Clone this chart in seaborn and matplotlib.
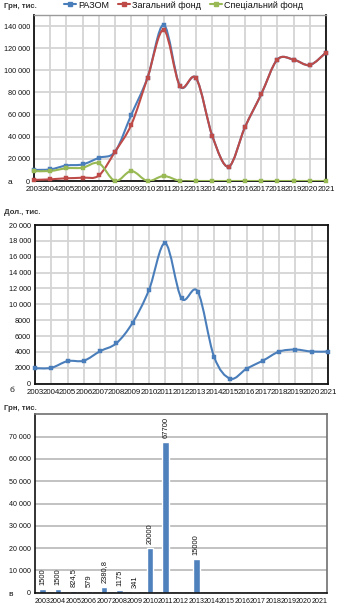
import numpy as np
import pandas as pd
import matplotlib
matplotlib.use("Agg")
import matplotlib.pyplot as plt
from matplotlib.path import Path
from matplotlib.patches import PathPatch
from matplotlib.lines import Line2D
import seaborn as sns

# ---- data -------------------------------------------------------------
years = list(range(2003, 2022))

# (а) UAH, thousand
total_uah = [10000, 10500, 14000, 15000, 21000, 26600, 60000, 93400, 141000,
             85700, 92700, 40300, 13000, 48500, 78200, 109700, 109700, 104800, 116100]
general_uah = [1000, 1500, 2500, 3000, 5000, 26600, 51000, 93400, 136500,
               85700, 92700, 40300, 13000, 48500, 78200, 109700, 109700, 104800, 116100]
special_uah = [9000, 9000, 11500, 12000, 16000, 0, 9000, 0, 4500,
               0, 0, 0, 0, 0, 0, 0, 0, 0, 0]

# (б) USD, thousand
total_usd = [1950, 2000, 2850, 2900, 4100, 5100, 7700, 11800, 17700,
             10750, 11600, 3400, 630, 1900, 2900, 4050, 4300, 4050, 4050]

# (в) UAH, thousand
bar_values = [1500, 1500, 824.5, 579, 2380.8, 1175, 341, 20000, 67700,
              0, 15000, 0, 0, 0, 0, 0, 0, 0, 0]
bar_labels = ["1500", "1500", "824,5", "579", "2380,8", "1175", "341", "20000", "67700",
              "", "15000", "", "", "", "", "", "", "", ""]

series_names = ["РАЗОМ", "Загальний фонд", "Спеціальний фонд"]
series_colors = ["#4A7EBB", "#BE4B48", "#98B954"]
bar_color = "#4F81BD"

# ---- style ------------------------------------------------------------
sns.set_theme(style="white")
plt.rcParams["font.family"] = ["Liberation Sans", "DejaVu Sans"]
plt.rcParams["text.color"] = "#111111"
plt.rcParams["axes.labelcolor"] = "#111111"

W, H = 340, 606
fig = plt.figure(figsize=(W / 100, H / 100), dpi=100)


def frac(left, top, right, bottom):
    return [left / W, 1 - bottom / H, (right - left) / W, (bottom - top) / H]


def smooth_path(x, y):
    """Cubic Bezier path through the points (Catmull-Rom tangents)."""
    pts = np.column_stack([x, y]).astype(float)
    n = len(pts)
    verts = [pts[0]]
    codes = [Path.MOVETO]
    for i in range(n - 1):
        p0 = pts[max(i - 1, 0)]
        p1 = pts[i]
        p2 = pts[i + 1]
        p3 = pts[min(i + 2, n - 1)]
        verts += [p1 + (p2 - p0) / 6, p2 - (p3 - p1) / 6, p2]
        codes += [Path.CURVE4] * 3
    return Path(verts, codes)


def fmt_thousands(v):
    v = int(round(v))
    if v >= 10000:
        return f"{v:,}".replace(",", " ")
    return str(v)


def draw_smooth_series(ax, values, color):
    ax.add_patch(PathPatch(smooth_path(years, values), facecolor="none",
                           edgecolor=color, lw=1.5, zorder=3))
    df = pd.DataFrame({"year": years, "value": values})
    sns.scatterplot(data=df, x="year", y="value", ax=ax, marker="s", s=5,
                    color=color, edgecolor=color, linewidth=0.3, zorder=4,
                    clip_on=False, legend=False)


def style_line_axes(ax, ymax, ystep):
    ax.set_xlim(2003, 2021)
    ax.set_ylim(0, ymax)
    ax.set_xticks(years)
    ax.set_xticklabels([str(y) for y in years])
    ticks = np.arange(0, ymax + 1, ystep)
    ticks = ticks[ticks <= ymax]
    ax.set_yticks(ticks)
    ax.set_yticklabels([fmt_thousands(t) for t in ticks])
    ax.grid(True, color="#D4D4D4", lw=1.3)
    ax.set_axisbelow(True)
    for s in ax.spines.values():
        s.set_color("#111111")
        s.set_linewidth(1.3)
    ax.tick_params(axis="both", length=0, colors="#111111")
    ax.tick_params(axis="x", pad=3.5, labelsize=5.7)
    ax.tick_params(axis="y", pad=3, labelsize=5.2)
    ax.set_xlabel("")
    ax.set_ylabel("")


# ---- (а) --------------------------------------------------------------
ax1 = fig.add_axes(frac(34, 15, 326, 181))
for vals, col in zip([total_uah, general_uah, special_uah], series_colors):
    draw_smooth_series(ax1, vals, col)
style_line_axes(ax1, 150000, 20000)
ax1.set_ylim(0, 150000)
ax1.set_yticks(np.arange(0, 150000, 20000))
ax1.set_yticklabels([fmt_thousands(t) for t in np.arange(0, 150000, 20000)])
ax1.spines["top"].set_color("#9A9A9A")
ax1.spines["top"].set_linewidth(1.0)

handles = [Line2D([0], [0], color=c, lw=1.5, marker="s", markersize=2.3)
           for c in series_colors]
fig.legend(handles, series_names, loc="upper left",
           bbox_to_anchor=(64 / W, 1 - 0.5 / H), ncol=3, frameon=False,
           fontsize=6.5, handlelength=1.3, handletextpad=0.25,
           columnspacing=1.0, borderpad=0, borderaxespad=0)
fig.text(4 / W, 1 - 7 / H, "Грн, тис.", fontsize=5.6, va="center", ha="left",
         fontweight="bold", color="#333333")
fig.text(8 / W, 1 - 183 / H, "а", fontsize=6, va="center", ha="left")

# ---- (б) --------------------------------------------------------------
ax2 = fig.add_axes(frac(35, 225, 328, 383.7))
draw_smooth_series(ax2, total_usd, series_colors[0])
style_line_axes(ax2, 20000, 2000)
fig.text(4 / W, 1 - 212 / H, "Дол., тис.", fontsize=5.6, va="center", ha="left",
         fontweight="bold", color="#333333")
fig.text(9 / W, 1 - 390 / H, "б", fontsize=6, va="center", ha="left")

# ---- (в) --------------------------------------------------------------
ax3 = fig.add_axes(frac(35, 414.3, 327, 592.7))
bdf = pd.DataFrame({"year": [str(y) for y in years], "value": bar_values})
sns.barplot(data=bdf, x="year", y="value", ax=ax3, color=bar_color,
            width=0.42, saturation=1)
ax3.set_xlim(-0.5, len(years) - 0.5)
ax3.set_ylim(0, 80000)
yt = np.arange(0, 80000, 10000)
ax3.set_yticks(yt)
ax3.set_yticklabels([fmt_thousands(t) for t in yt])
ax3.yaxis.grid(True, color="#BDBDBD", lw=1.3)
ax3.xaxis.grid(False)
ax3.set_axisbelow(True)
ax3.tick_params(axis="both", length=0, labelsize=5.1, colors="#111111")
ax3.tick_params(axis="x", pad=3.5)
ax3.tick_params(axis="y", pad=3)
ax3.set_xlabel("")
ax3.set_ylabel("")
for name, s in ax3.spines.items():
    s.set_color("#111111" if name in ("left", "bottom") else "#707070")
    s.set_linewidth(1.2)

ymax3 = ax3.get_ylim()[1]
for i, (v, lab) in enumerate(zip(bar_values, bar_labels)):
    if not lab:
        continue
    if v > 0.8 * ymax3:
        ax3.annotate(lab, xy=(i, ymax3), xytext=(0, -2), textcoords="offset points",
                     rotation=90, ha="center", va="top", fontsize=5.4)
    else:
        ax3.annotate(lab, xy=(i, v), xytext=(0, 3), textcoords="offset points",
                     rotation=90, ha="center", va="bottom", fontsize=5.4)

fig.text(4 / W, 1 - 409 / H, "Грн, тис.", fontsize=5.6, va="center", ha="left",
         fontweight="bold", color="#333333")
fig.text(8 / W, 1 - 594 / H, "в", fontsize=6, va="center", ha="left")

fig.savefig("out.png", dpi=100, facecolor="white")
